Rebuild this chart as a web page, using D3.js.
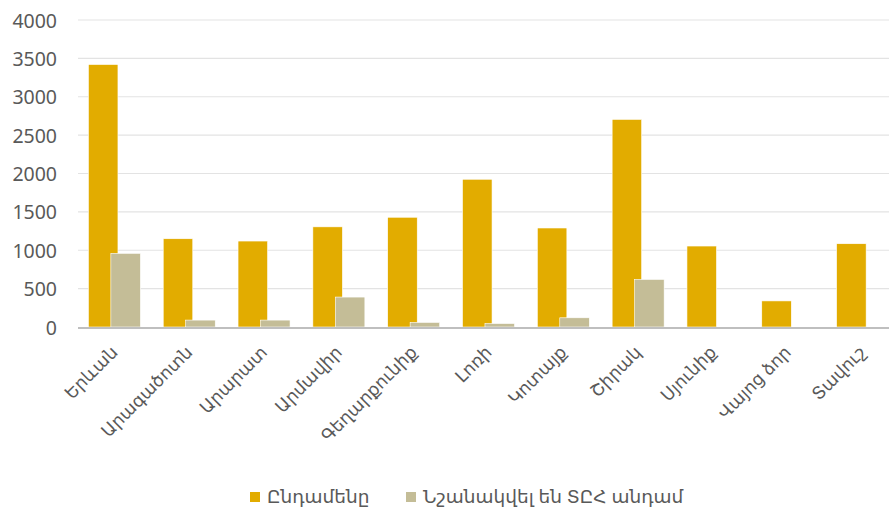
<!DOCTYPE html>
<html><head><meta charset="utf-8">
<script src="https://cdn.jsdelivr.net/npm/d3@7"></script>
<style>body{margin:0;background:#fff}svg{display:block}</style>
</head><body>
<script>
const categories = ["Երևան","Արագածոտն","Արարատ","Արմավիր","Գեղարքունիք","Լոռի","Կոտայք","Շիրակ","Սյունիք","Վայոց ձոր","Տավուշ"];
const totalValues = [3420, 1150, 1120, 1305, 1430, 1925, 1290, 2705, 1055, 340, 1085];
const memberValues = [960, 90, 90, 390, 60, 45, 120, 620, 0, 0, 0];
const seriesNames = ["Ընդամենը", "Նշանակվել են ՏԸՀ անդամ"];
const yTicks = [0, 500, 1000, 1500, 2000, 2500, 3000, 3500, 4000];

const W = 889, H = 508;
const svg = d3.select("body").append("svg").attr("width", W).attr("height", H);
const font = "'Noto Sans', 'DejaVu Sans', sans-serif";
const textColor = "#595959";

const x = d3.scaleBand().domain(categories).range([77, 900]).paddingInner(0).paddingOuter(0);
const y = d3.scaleLinear().domain([0, 4000]).range([327, 20]);

// grid
svg.append("g").selectAll("line").data(yTicks.filter(d => d > 0)).join("line")
  .attr("x1", 78).attr("x2", W).attr("y1", d => y(d)).attr("y2", d => y(d))
  .attr("stroke", "#e3e3e3").attr("stroke-width", 1.2);

// y axis labels
const yAxis = d3.axisLeft(y).tickValues(yTicks).tickSize(0).tickPadding(0).tickFormat(d3.format("d"));
const ga = svg.append("g").attr("transform", "translate(57,0)").call(yAxis);
ga.select(".domain").remove();
ga.selectAll("text").attr("fill", textColor).style("font-size", "19.5px").style("font-family", font).attr("dy", "0.36em");

const bw = x.bandwidth() * 0.395;
const shift = bw * 0.76;
const groupW = bw + shift;
const off = (x.bandwidth() - groupW) / 2;

svg.append("g").selectAll("rect").data(categories).join("rect")
  .attr("x", d => x(d) + off).attr("width", bw)
  .attr("y", (d, i) => y(totalValues[i])).attr("height", (d, i) => y(0) - y(totalValues[i]))
  .attr("fill", "#E2AC00").attr("stroke", "#fff").attr("stroke-width", 0.6);

svg.append("g").selectAll("rect").data(categories).join("rect")
  .attr("x", d => x(d) + off + shift).attr("width", bw)
  .attr("y", (d, i) => y(memberValues[i])).attr("height", (d, i) => y(0) - y(memberValues[i]))
  .attr("fill", "#C4BD97").attr("stroke", "#fff").attr("stroke-width", 0.6)
  .attr("display", (d, i) => memberValues[i] > 0 ? null : "none");

// x axis
const xAxis = d3.axisBottom(x).tickSize(0).tickPadding(0);
const gx = svg.append("g").attr("transform", `translate(0,${y(0)})`).call(xAxis);
gx.select(".domain").remove();
svg.append("line").attr("x1", 78).attr("x2", W).attr("y1", y(0) + 1).attr("y2", y(0) + 1)
  .attr("stroke", "#bfbfbf").attr("stroke-width", 2.2);
gx.selectAll(".tick text")
  .attr("fill", textColor).style("font-size", "17.5px").style("font-family", font)
  .attr("text-anchor", "end").attr("dy", "0.35em")
  .attr("transform", "translate(0,22) rotate(-45)");

// legend
const leg = svg.append("g").attr("transform", "translate(250,497)");
const items = [{name: seriesNames[0], c: "#E2AC00", x: 0}, {name: seriesNames[1], c: "#C4BD97", x: 156}];
items.forEach(it => {
  leg.append("rect").attr("x", it.x).attr("y", -5).attr("width", 10).attr("height", 10).attr("fill", it.c);
  leg.append("text").attr("x", it.x + 17).attr("y", 0).attr("dy", "0.35em")
    .attr("fill", textColor).style("font-size", "18.5px").style("font-family", font).text(it.name);
});
</script>
</body></html>
